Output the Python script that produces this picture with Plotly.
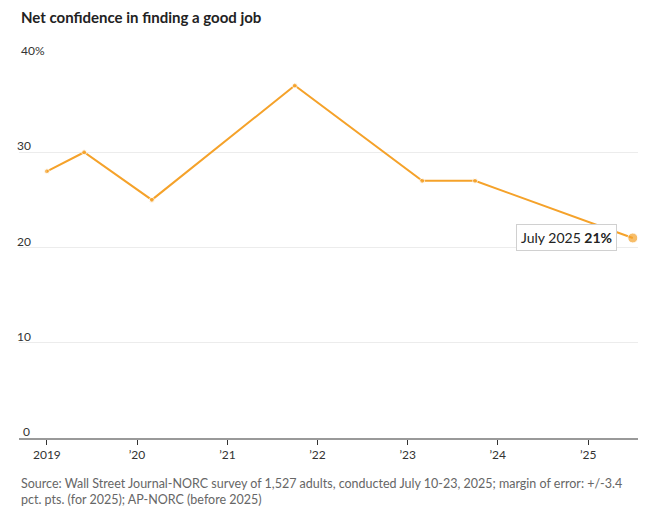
import plotly.graph_objects as go

dates = ["2019-01-01", "2019-06-01", "2020-03-01", "2021-10-01", "2023-03-01", "2023-10-01", "2025-07-01"]
values = [28, 30, 25, 37, 27, 27, 21]
tick_dates = ["2019-01-01", "2020-01-01", "2021-01-01", "2022-01-01", "2023-01-01", "2024-01-01", "2025-01-01"]
tick_labels = ["2019", "\u201920", "\u201921", "\u201922", "\u201923", "\u201924", "\u201925"]
y_ticks = [0, 10, 20, 30, 40]
y_labels = ["0", "10", "20", "30", "40%"]

ORANGE = "#F5A22A"
FONT = "Lato"

fig = go.Figure()
fig.add_trace(go.Scatter(
    x=dates, y=values, mode="lines+markers",
    line=dict(color=ORANGE, width=2),
    marker=dict(color=ORANGE, size=[5] * (len(values) - 1) + [10]),
    hoverinfo="skip", showlegend=False,
))

ann = []
for v, lab in zip(y_ticks, y_labels):
    if lab.endswith("%"):
        ann.append(dict(x=0, xref="paper", y=v, yref="y", text=lab, showarrow=False,
                        xanchor="left", yanchor="bottom", yshift=-3,
                        font=dict(family=FONT, size=12, color="#333")))
    else:
        ann.append(dict(x=0, xref="paper", y=v, yref="y", text=lab, showarrow=False,
                        xanchor="right", yanchor="bottom", xshift=14 if v else 13, yshift=-3,
                        font=dict(family=FONT, size=12, color="#333")))

# callout for last point
ann.append(dict(x=dates[-1], y=values[-1], xref="x", yref="y",
                text="July 2025 <b>" + str(values[-1]) + "%</b>", showarrow=False,
                xanchor="right", yanchor="middle", xshift=-16,
                bgcolor="white", bordercolor="#d0d0d0", borderwidth=1, borderpad=4,
                font=dict(family=FONT, size=14, color="#222")))

ann.append(dict(x=0, xref="paper", y=1.0, yref="paper", yshift=40, text="<b>Net confidence in finding a good job</b>",
                showarrow=False, xanchor="left", yanchor="middle",
                font=dict(family=FONT, size=15, color="#222")))
ann.append(dict(x=0, xref="paper", y=0, yref="paper", yshift=-36,
                text="Source: Wall Street Journal-NORC survey of 1,527 adults, conducted July 10-23, 2025; margin of error: +/-3.4<br>pct. pts. (for 2025); AP-NORC (before 2025)",
                showarrow=False, xanchor="left", yanchor="top", align="left",
                font=dict(family=FONT, size=12.5, color="#666")))

fig.update_layout(
    width=646, height=510,
    margin=dict(l=11, r=16, t=49, b=80),
    paper_bgcolor="white", plot_bgcolor="white",
    annotations=ann,
    xaxis=dict(type="date", range=["2018-09-10", "2025-07-22"],
               tickvals=tick_dates, ticktext=tick_labels,
               showgrid=False, showline=True, linecolor="#999", linewidth=2,
               ticks="outside", ticklen=5, tickcolor="#333", tickwidth=1,
               tickfont=dict(family=FONT, size=12, color="#333"), zeroline=False),
    yaxis=dict(range=[0, 40], tickvals=y_ticks, showticklabels=False,
               showgrid=True, gridcolor="#ececec", gridwidth=1, zeroline=False, fixedrange=True),
)

fig.write_html("out.html")
